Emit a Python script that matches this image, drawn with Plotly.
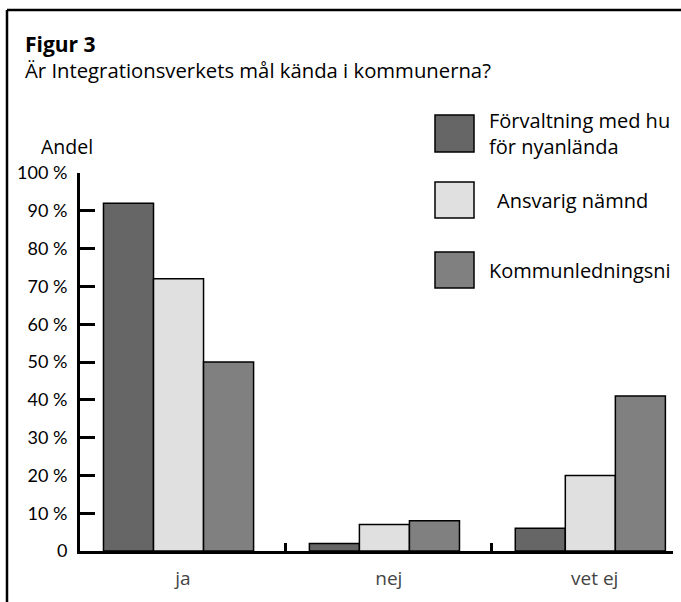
import plotly.graph_objects as go

categories = ["ja", "nej", "vet ej"]
series_names = ["Förvaltning med huvudansvar för nyanlända", "Ansvarig nämnd", "Kommunledningsnivå"]
forvaltning = [92, 2, 6]
ansvarig = [72, 7, 20]
kommunledning = [50, 8, 41]
y_tickvals = [0, 10, 20, 30, 40, 50, 60, 70, 80, 90, 100]
y_ticktext = ["0", "10 %", "20 %", "30 %", "40 %", "50 %", "60 %", "70 %", "80 %", "90 %", "100 %"]

colors = ["#666666", "#e0e0e0", "#808080"]
FONT = "Open Sans"
TICKFONT = "Lato"

W, H = 681, 602
L, R, T, B = 80, 8, 173, 51
PW, PH = W - L - R, H - T - B


def px(x):
    return (x - L) / PW


def py(y):
    return (H - B - y) / PH


BAR_W = 0.243
GROUP_START = -0.386

fig = go.Figure()
for i, (name, vals, col) in enumerate(zip(series_names, [forvaltning, ansvarig, kommunledning], colors)):
    fig.add_trace(go.Bar(
        x=categories, y=vals, name=name,
        width=BAR_W, offset=GROUP_START + i * BAR_W,
        marker=dict(color=col, line=dict(color="#000000", width=1.5)),
        showlegend=False,
    ))

fig.update_layout(
    width=W, height=H,
    margin=dict(l=L, r=R, t=T, b=B, pad=0),
    paper_bgcolor="white", plot_bgcolor="white",
    barmode="overlay",
    font=dict(family=FONT, color="#000000"),
)
fig.update_xaxes(
    type="category", range=[-0.5, 2.38],
    showline=True, linecolor="#000000", linewidth=3,
    ticks="inside", tickson="boundaries", ticklen=8, tickwidth=3, tickcolor="#000000",
    tickfont=dict(family=FONT, size=19, color="#444444"),
    ticklabelstandoff=8,
    showgrid=False, zeroline=False,
)
fig.update_yaxes(
    range=[0, 100], tickvals=y_tickvals, ticktext=y_ticktext,
    showline=True, linecolor="#000000", linewidth=3,
    ticks="inside", ticklen=15, tickwidth=3, tickcolor="#000000",
    tickfont=dict(family=TICKFONT, size=18, color="#000000"),
    ticklabelstandoff=6,
    showgrid=False, zeroline=False,
)

shapes = []
# frame lines
shapes.append(dict(type="line", xref="paper", yref="paper", x0=px(7), x1=px(681), y0=py(10), y1=py(10),
                   line=dict(color="#000000", width=2.5)))
shapes.append(dict(type="line", xref="paper", yref="paper", x0=px(7), x1=px(7), y0=py(10), y1=py(602),
                   line=dict(color="#000000", width=2.5)))
# legend squares
for (y0, y1), col in zip([(115, 152), (182, 218), (252, 288)], colors):
    shapes.append(dict(type="rect", xref="paper", yref="paper", x0=px(435), x1=px(474), y0=py(y1), y1=py(y0),
                       fillcolor=col, line=dict(color="#000000", width=1.5)))
fig.update_layout(shapes=shapes)

annotations = [
    dict(text="<b><span style='font-size:21px'>Figur 3</span></b><br>Är Integrationsverkets mål kända i kommunerna?",
         x=px(23), y=py(57), font=dict(size=20.3)),
    dict(text="Andel", x=px(39), y=py(147), font=dict(size=19.5)),
    dict(text="Förvaltning med hu<br>för nyanlända", x=px(487), y=py(133), font=dict(size=20)),
    dict(text="Ansvarig nämnd", x=px(495), y=py(200), font=dict(size=20)),
    dict(text="Kommunledningsni", x=px(487), y=py(270), font=dict(size=20)),
]
for a in annotations:
    a.update(xref="paper", yref="paper", xanchor="left", yanchor="middle", showarrow=False, align="left")
    a["font"] = dict(family=FONT, color="#000000", **a["font"])
fig.update_layout(annotations=annotations)

fig.write_html("out.html", config={"displayModeBar": False},
               post_script="document.body.style.margin='0';")
